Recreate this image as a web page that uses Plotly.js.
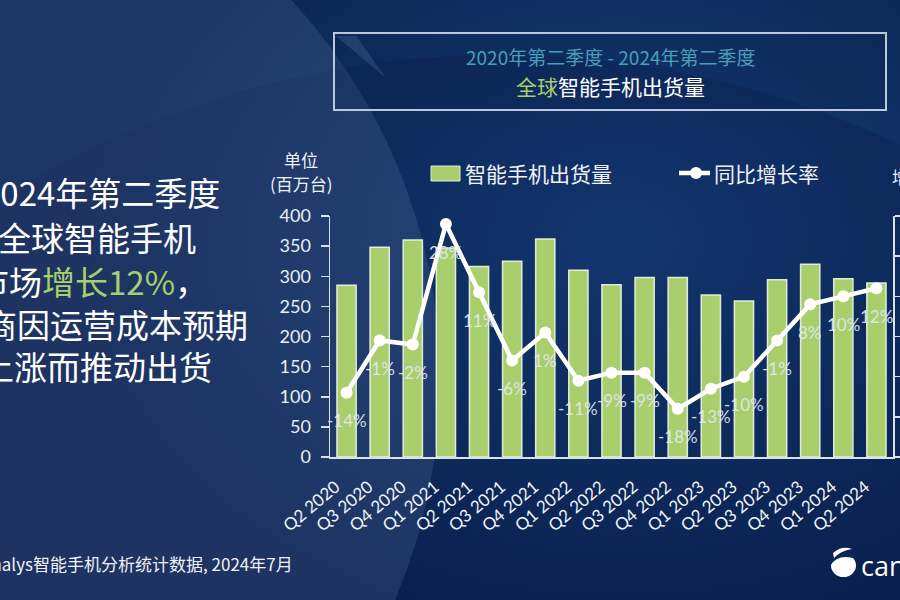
<!DOCTYPE html>
<html>
<head>
<meta charset="utf-8">
<script src="https://cdn.plot.ly/plotly-3.0.1.min.js"></script>
<style>
  html, body { margin:0; padding:0; width:900px; height:600px; overflow:hidden; background:#0f2a5e; }
  #bg { position:absolute; left:0; top:0; width:900px; height:600px; overflow:hidden;
        background: radial-gradient(ellipse 540px 400px at 620px 240px, #17427f 0%, #113468 45%, #0b2251 100%); }
  .disc { position:absolute; border-radius:50%; }
  #chart { position:absolute; left:0; top:0; width:900px; height:600px; }
</style>
</head>
<body>
<div id="bg">
  <div class="disc" style="left:-438px; top:55px; width:1876px; height:1876px; background:rgba(10,28,72,0.30);"></div>
  <div class="disc" style="left:-680px; top:-180px; width:1120px; height:1120px; background:rgba(110,135,180,0.20);"></div>
</div>
<div id="chart"></div>
<script>
// ---- data ----
const quarters = ['Q2 2020','Q3 2020','Q4 2020','Q1 2021','Q2 2021','Q3 2021','Q4 2021','Q1 2022','Q2 2022','Q3 2022','Q4 2022','Q1 2023','Q2 2023','Q3 2023','Q4 2023','Q1 2024','Q2 2024'];
const shipments = [285, 348, 360, 347, 316, 325, 362, 310, 286, 298, 298, 269, 259, 294, 320, 296, 289];
const growth = [-14, -1, -2, 28, 11, -6, 1, -11, -9, -9, -18, -13, -10, -1, 8, 10, 12];
const seriesNames = ['智能手机出货量', '同比增长率'];
const yTicks = [0, 50, 100, 150, 200, 250, 300, 350, 400];

// ---- geometry helpers (plot area in px) ----
const W = 900, H = 600;
const M = {l:330, r:7, t:216, b:143};
const PW = W - M.l - M.r, PH = H - M.t - M.b;
const px = x => (x - M.l) / PW;
const py = y => (H - M.b - y) / PH;

const FONT = "Lato, 'Noto Sans CJK SC', sans-serif";
const CJK = "'Noto Sans CJK SC', Lato, sans-serif";
const GREEN = '#a9cf6d';
const TXT = '#eef2f7';

const bars = {
  type:'bar', x:quarters, y:shipments, name:seriesNames[0], yaxis:'y',
  marker:{color:GREEN, line:{color:'rgba(232,240,225,0.95)', width:1.5}},
  hoverinfo:'skip', showlegend:false
};
const line = {
  type:'scatter', mode:'lines+markers', x:quarters, y:growth, name:seriesNames[1], yaxis:'y2',
  line:{color:'#ffffff', width:4.5}, marker:{color:'#ffffff', size:12},
  hoverinfo:'skip', showlegend:false
};

const annotations = [];
// value labels for growth line
growth.forEach((g, i) => {
  annotations.push({x:quarters[i], y:g, xref:'x', yref:'y2', text:g + '%', showarrow:false,
    yshift:-28, font:{family:FONT, size:17, color:'rgba(226,232,240,0.92)'}});
});
// title
annotations.push({xref:'paper', yref:'paper', x:px(610), y:py(57), xanchor:'center', yanchor:'middle', showarrow:false,
  text:'2020年第二季度 - 2024年第二季度', font:{family:CJK, size:19, color:'#4b9fb6'}});
annotations.push({xref:'paper', yref:'paper', x:px(610), y:py(86), xanchor:'center', yanchor:'middle', showarrow:false,
  text:'<span style="color:' + GREEN + '">全球</span>智能手机出货量', font:{family:CJK, size:21, color:'#ffffff'}});
// unit label
annotations.push({xref:'paper', yref:'paper', x:px(301), y:py(159), xanchor:'center', yanchor:'middle', showarrow:false,
  text:'单位', font:{family:CJK, size:17, color:TXT}});
annotations.push({xref:'paper', yref:'paper', x:px(301), y:py(183), xanchor:'center', yanchor:'middle', showarrow:false,
  text:'(百万台)', font:{family:CJK, size:17, color:TXT}});
// right axis title (cut by page edge)
annotations.push({xref:'paper', yref:'paper', x:px(890), y:py(177), xanchor:'left', yanchor:'middle', showarrow:false,
  text:'增长率', font:{family:CJK, size:17, color:TXT}});
// legend (manual)
annotations.push({xref:'paper', yref:'paper', x:px(463), y:py(173), xanchor:'left', yanchor:'middle', showarrow:false,
  text:seriesNames[0], font:{family:CJK, size:21, color:TXT}});
annotations.push({xref:'paper', yref:'paper', x:px(712), y:py(173), xanchor:'left', yanchor:'middle', showarrow:false,
  text:seriesNames[1], font:{family:CJK, size:21, color:TXT}});
// left headline block (cut by the left page edge, as in the slide)
const headline = [
  {t:'2024年第二季度', xr:222, y:192},
  {t:'全球智能手机', xr:198, y:237},
  {t:'市场<span style="color:' + GREEN + '">增长12%</span>，', xr:210, y:281},
  {t:'商因运营成本预期', xr:250, y:324},
  {t:'上涨而推动出货', xr:214, y:366}
];
headline.forEach(h => annotations.push({xref:'paper', yref:'paper', x:px(h.xr), y:py(h.y), xanchor:'right', yanchor:'middle',
  showarrow:false, text:h.t, font:{family:CJK, size:33, color:'#ffffff'}}));
// footer source
annotations.push({xref:'paper', yref:'paper', x:px(295), y:py(563), xanchor:'right', yanchor:'middle', showarrow:false,
  text:'数据来源：Canalys智能手机分析统计数据, 2024年7月', font:{family:CJK, size:17, color:TXT}});
// logo text
annotations.push({xref:'paper', yref:'paper', x:px(859), y:py(565), xanchor:'left', yanchor:'middle', showarrow:false,
  text:'canalys', font:{family:"'Open Sans', Lato, sans-serif", size:27, color:'#ffffff'}});

const shapes = [
  // title box
  {type:'rect', xref:'paper', yref:'paper', x0:px(334), x1:px(886), y0:py(33), y1:py(110),
   line:{color:'#b9c9d9', width:2}, fillcolor:'rgba(10,30,75,0.20)', layer:'below'},
  // faint streak in title box
  {type:'path', xref:'paper', yref:'paper',
   path:'M ' + px(336) + ' ' + py(36) + ' L ' + px(356) + ' ' + py(36) + ' L ' + px(386) + ' ' + py(78) + ' Z',
   fillcolor:'rgba(200,220,240,0.12)', line:{width:0}, layer:'below'},
  // legend: bar swatch
  {type:'rect', xref:'paper', yref:'paper', x0:px(431), x1:px(460), y0:py(166), y1:py(181),
   fillcolor:GREEN, line:{color:'rgba(232,240,225,0.95)', width:1}},
  // legend: line swatch
  {type:'line', xref:'paper', yref:'paper', x0:px(679), x1:px(710), y0:py(173), y1:py(173),
   line:{color:'#ffffff', width:4.5}},
  {type:'circle', xref:'paper', yref:'paper', x0:px(690), x1:px(702), y0:py(167), y1:py(179),
   fillcolor:'#ffffff', line:{width:0}},
  // logo
  {type:'circle', xref:'paper', yref:'paper', x0:px(831), x1:px(856), y0:py(554), y1:py(577),
   fillcolor:'#ffffff', line:{width:0}},
  {type:'path', xref:'paper', yref:'paper',
   path:'M ' + px(830) + ' ' + py(566) + ' Q ' + px(838) + ' ' + py(553) + ' ' + px(856) + ' ' + py(559) +
        ' L ' + px(856) + ' ' + py(556) + ' Q ' + px(843) + ' ' + py(546) + ' ' + px(833) + ' ' + py(553) + ' Z',
   fillcolor:'#0e2656', line:{width:0}},
  {type:'path', xref:'paper', yref:'paper',
   path:'M ' + px(833) + ' ' + py(553) + ' Q ' + px(842) + ' ' + py(545) + ' ' + px(852) + ' ' + py(549) +
        ' Q ' + px(840) + ' ' + py(551) + ' ' + px(834) + ' ' + py(558) + ' Z',
   fillcolor:'#ffffff', line:{width:0}}
];

const axisCol = '#d9e1ea';
const layout = {
  width:W, height:H, margin:M,
  paper_bgcolor:'rgba(0,0,0,0)', plot_bgcolor:'rgba(0,0,0,0)',
  font:{family:FONT, color:TXT},
  bargap:0.42,
  xaxis:{type:'category', range:[-0.5, quarters.length - 0.5], showline:true, linecolor:axisCol, linewidth:1.5,
    ticks:'', showgrid:false, tickangle:-40, tickfont:{family:FONT, size:17, color:'#f2f5f9'},
    automargin:false, zeroline:false, ticklabelshift:-11, ticklabelstandoff:12},
  yaxis:{range:[0,400], tickvals:yTicks, showline:true, linecolor:axisCol, linewidth:1.5, ticks:'outside',
    ticklen:8, tickwidth:1.5, tickcolor:axisCol, showgrid:false, zeroline:false, ticklabelstandoff:6,
    tickfont:{family:FONT, size:18, color:'#e9eef4'}, automargin:false},
  yaxis2:{range:[-30,30], dtick:10, overlaying:'y', side:'right', showline:true, linecolor:axisCol, linewidth:1.5,
    ticks:'outside', ticklen:8, tickwidth:1.5, tickcolor:axisCol, showgrid:false, zeroline:false,
    showticklabels:false, automargin:false},
  showlegend:false,
  annotations:annotations,
  shapes:shapes
};

Plotly.newPlot('chart', [bars, line], layout, {displayModeBar:false, staticPlot:true});
</script>
</body>
</html>
